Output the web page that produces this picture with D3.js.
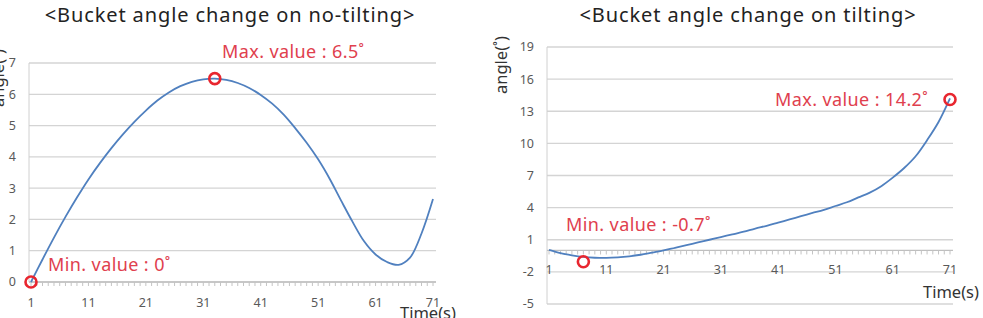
<!DOCTYPE html>
<html>
<head>
<meta charset="utf-8">
<script src="https://cdn.jsdelivr.net/npm/d3@7"></script>
<style>
  body { margin: 0; background: #fff; }
  svg { font-family: "Noto Sans", "Open Sans", sans-serif; }
</style>
</head>
<body>
<div id="chart"></div>
<script>
const times = [1,3,5,7,9,11,13,15,17,19,21,23,25,27,29,31,33,35,37,39,41,43,45,47,49,51,53,55,57,59,61,63,65,67,69,71];

const noTiltValues = [0,0.72,1.42,2.08,2.7,3.28,3.8,4.28,4.72,5.12,5.48,5.8,6.06,6.26,6.4,6.48,6.5,6.46,6.36,6.2,5.98,5.7,5.35,4.92,4.45,3.92,3.3,2.6,1.92,1.3,0.88,0.64,0.55,0.78,1.55,2.65];

const tiltValues = [0.05,-0.25,-0.45,-0.6,-0.68,-0.7,-0.65,-0.55,-0.4,-0.2,0,0.25,0.5,0.75,1,1.25,1.5,1.75,2.05,2.3,2.6,2.9,3.2,3.5,3.8,4.15,4.5,4.95,5.4,6,6.8,7.7,8.8,10.3,12,14.2];

const xTicks = [1,11,21,31,41,51,61,71];
const noTiltYTicks = [0,1,2,3,4,5,6,7];
const tiltYTicks = [-5,-2,1,4,7,10,13,16,19];

// annotation circles [time, value] and labels
const noTiltMarks = [{ t: 33, v: 6.5 }, { t: 1, v: 0 }];
const tiltMarks = [{ t: 71, v: 14.1 }, { t: 7, v: -1.05 }];
const noTiltNotes = ["Max. value : 6.5˚", "Min. value : 0˚"];
const tiltNotes = ["Max. value : 14.2˚", "Min. value : -0.7˚"];

const width = 983, height = 318;
const svg = d3.select("#chart").append("svg")
  .attr("width", width)
  .attr("height", height);

const red = "#e8262f";
const noteRed = "#e0404e";

function drawPanel(cfg) {
  const x = d3.scaleLinear().domain([1, 71]).range(cfg.xRange);
  const y = d3.scaleLinear().domain(cfg.yDomain).range(cfg.yRange);
  const g = svg.append("g");

  // gridlines
  g.selectAll("line.grid")
    .data(cfg.yTicks)
    .join("line")
    .attr("class", "grid")
    .attr("x1", cfg.xRange[0] - 2)
    .attr("x2", cfg.xRange[1] + 3)
    .attr("y1", d => y(d))
    .attr("y2", d => y(d))
    .attr("stroke", "#d4d4d4")
    .attr("stroke-width", 1.3);

  // y axis line
  g.append("line")
    .attr("x1", cfg.xRange[0] - 2)
    .attr("x2", cfg.xRange[0] - 2)
    .attr("y1", y(cfg.yDomain[1]))
    .attr("y2", y(cfg.yDomain[0]))
    .attr("stroke", "#d0d0d0");

  // y tick labels
  g.selectAll("text.ytick")
    .data(cfg.yTicks)
    .join("text")
    .attr("x", cfg.yLabelX)
    .attr("y", d => y(d))
    .attr("dy", "0.35em")
    .attr("text-anchor", "end")
    .attr("fill", "#595959")
    .style("font-size", "12.5px")
    .text(d => d);

  // zero axis with minor ticks
  const minor = d3.range(1, 72);
  g.append("line")
    .attr("x1", cfg.xRange[0] - 2)
    .attr("x2", cfg.xRange[1] + 3)
    .attr("y1", y(0))
    .attr("y2", y(0))
    .attr("stroke", "#bfbfbf")
    .attr("stroke-width", 1.3);
  g.selectAll("line.minor")
    .data(minor)
    .join("line")
    .attr("class", "minor")
    .attr("x1", d => x(d))
    .attr("x2", d => x(d))
    .attr("y1", y(0))
    .attr("y2", y(0) + 4)
    .attr("stroke", "#c4c4c4");

  // x tick labels
  g.selectAll("text.xtick")
    .data(xTicks)
    .join("text")
    .attr("x", d => x(d))
    .attr("y", cfg.xLabelY)
    .attr("dy", "0.35em")
    .attr("text-anchor", "middle")
    .attr("fill", "#595959")
    .style("font-size", "12.5px")
    .text(d => d);

  // curve
  const line = d3.line()
    .x((d, i) => x(times[i]))
    .y(d => y(d))
    .curve(d3.curveCatmullRom.alpha(0.5));
  g.append("path")
    .datum(cfg.values)
    .attr("fill", "none")
    .attr("stroke", "#5080bf")
    .attr("stroke-width", 1.8)
    .attr("d", line);

  // circles
  g.selectAll("circle")
    .data(cfg.marks)
    .join("circle")
    .attr("cx", d => x(d.t))
    .attr("cy", d => y(d.v))
    .attr("r", 5.5)
    .attr("fill", "none")
    .attr("stroke", red)
    .attr("stroke-width", 2.6);

  // notes
  cfg.notes.forEach((n, i) => {
    g.append("text")
      .attr("x", cfg.notePos[i][0])
      .attr("y", cfg.notePos[i][1])
      .attr("dy", "0.35em")
      .attr("fill", noteRed)
      .style("font-size", "18px")
      .style("letter-spacing", "0.4px")
      .text(n);
  });

  // title
  g.append("text")
    .attr("x", cfg.titleX)
    .attr("y", 15)
    .attr("dy", "0.35em")
    .attr("text-anchor", "middle")
    .attr("fill", "#222")
    .style("font-size", "20px")
    .style("letter-spacing", "0.9px")
    .text(cfg.title);

  // x axis label
  g.append("text")
    .attr("x", cfg.timePos[0])
    .attr("y", cfg.timePos[1])
    .attr("dy", "0.35em")
    .attr("fill", "#333")
    .style("font-size", "16.5px")
    .text("Time(s)");

  // y axis label
  g.append("text")
    .attr("transform", `translate(${cfg.anglePos[0]},${cfg.anglePos[1]}) rotate(-90)`)
    .attr("text-anchor", "middle")
    .attr("fill", "#333")
    .style("font-size", "16.5px")
    .text("angle(˚)");
}

drawPanel({
  xRange: [31, 433],
  yDomain: [0, 7],
  yRange: [282, 63],
  yTicks: noTiltYTicks,
  yLabelX: 16,
  xLabelY: 303,
  values: noTiltValues,
  marks: noTiltMarks,
  notes: noTiltNotes,
  notePos: [[222, 52], [48, 265]],
  title: "<Bucket angle change on no-tilting>",
  titleX: 230,
  timePos: [400, 313],
  anglePos: [4, 78]
});

drawPanel({
  xRange: [549, 950],
  yDomain: [-5, 19],
  yRange: [304, 47],
  yTicks: tiltYTicks,
  yLabelX: 534,
  xLabelY: 270,
  values: tiltValues,
  marks: tiltMarks,
  notes: tiltNotes,
  notePos: [[775, 100], [566, 225]],
  title: "<Bucket angle change on tilting>",
  titleX: 748,
  timePos: [923, 292],
  anglePos: [507, 65]
});
</script>
</body>
</html>
